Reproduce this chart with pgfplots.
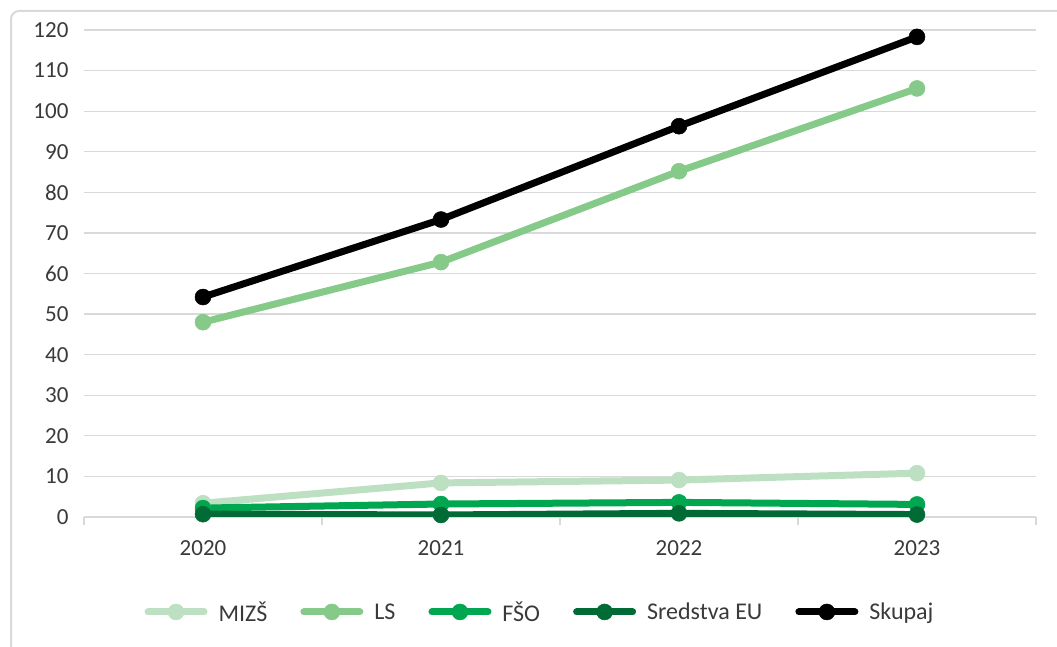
\documentclass[border=0pt]{standalone}
\usepackage{fontspec}
\setmainfont{Carlito}
\usepackage{pgfplots}
\pgfplotsset{compat=1.18}
\definecolor{cMizs}{HTML}{BDE0C3}
\definecolor{cLs}{HTML}{86CA8A}
\definecolor{cFso}{HTML}{00A650}
\definecolor{cEu}{HTML}{006B35}
\definecolor{gridgray}{HTML}{D9D9D9}
\definecolor{txt}{HTML}{3A3A3A}
\begin{document}
\begin{tikzpicture}
% chart frame (only left and top edges are visible)
\draw[gridgray, line width=2pt, rounded corners=8pt] (11pt,-10pt) -- (11pt,636pt) -- (1075pt,636pt);
\begin{axis}[
    at={(84pt,130pt)}, anchor=south west,
    scale only axis, width=952pt, height=487pt,
    xmin=-0.5, xmax=3.5, ymin=0, ymax=120,
    xtick={0,1,2,3}, xticklabels={2020,2021,2022,2023},
    ytick={0,10,...,120},
    major tick length=0pt,
    extra x ticks={-0.5,0.5,1.5,2.5,3.5}, extra x tick labels={},
    extra x tick style={major tick length=8pt, tick align=outside,
        major tick style={gridgray, line width=1.2pt}, grid=none},
    tick pos=left,
    axis line style={draw=none},
    ymajorgrids, grid style={gridgray, line width=1.2pt},
    tick label style={text=txt, font=\fontsize{23}{27}\selectfont},
    /pgf/number format/assume math mode=true,
    yticklabel style={xshift=-12pt},
    xticklabel style={yshift=-20pt},
    every axis plot/.append style={line width=7pt, line cap=round, line join=round,
        mark=*, mark size=8pt, mark options={line width=0.5pt}},
    legend columns=5,
    legend style={draw=none, fill=none, at={(0.479,-0.195)}, anchor=center,
        font=\fontsize{24}{28}\selectfont, text=txt,
        /tikz/every odd column/.append style={column sep=9pt},
        /tikz/every even column/.append style={column sep=31pt}},
    legend image code/.code={
        \draw[mark repeat=2, mark phase=2] plot coordinates {(3pt,0pt) (31pt,0pt) (59pt,0pt)};},
]
\addplot[color=cMizs] coordinates {(0,3.4) (1,8.4) (2,9.1) (3,10.8)};
\addlegendentry{MIZŠ}
\addplot[color=cLs] coordinates {(0,48.0) (1,62.8) (2,85.2) (3,105.6)};
\addlegendentry{LS}
\addplot[color=cFso] coordinates {(0,2.2) (1,3.2) (2,3.6) (3,3.1)};
\addlegendentry{FŠO}
\addplot[color=cEu] coordinates {(0,0.7) (1,0.5) (2,0.9) (3,0.6)};
\addlegendentry{Sredstva EU}
\addplot[color=black] coordinates {(0,54.2) (1,73.3) (2,96.3) (3,118.3)};
\addlegendentry{Skupaj}
\end{axis}
\pgfresetboundingbox
\path[use as bounding box] (0pt,0pt) rectangle (1057pt,647pt);
\end{tikzpicture}
\end{document}
